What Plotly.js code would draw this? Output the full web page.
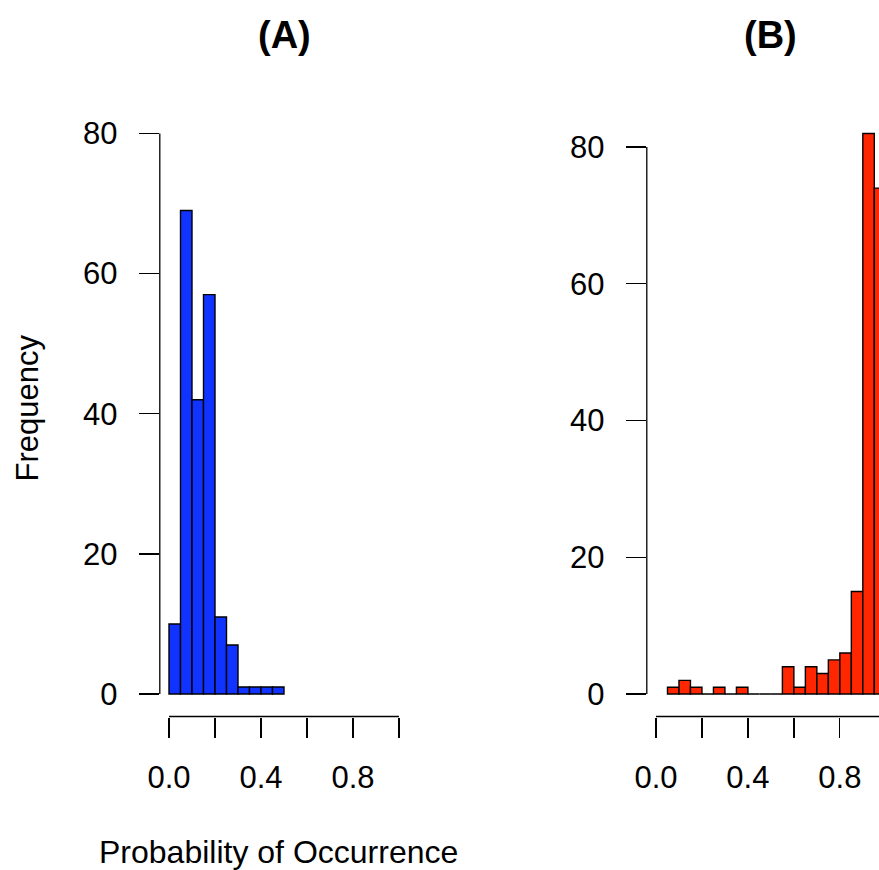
<!DOCTYPE html>
<html>
<head>
<meta charset="utf-8">
<script src="https://cdn.plot.ly/plotly-3.0.1.min.js"></script>
<style>
html, body { margin:0; padding:0; overflow:hidden; background:#fff; width:879px; height:870px; }
#chart { width:1000px; height:870px; }
</style>
</head>
<body>
<div id="chart"></div>
<script>
// Panel A: histogram bins (centres) and counts
var binsA = [0.025, 0.075, 0.125, 0.175, 0.225, 0.275, 0.325, 0.375, 0.425, 0.475];
var countsA = [10, 69, 42, 57, 11, 7, 1, 1, 1, 1];
// Panel B
var binsB = [0.075, 0.125, 0.175, 0.225, 0.275, 0.325, 0.375, 0.425, 0.475, 0.525,
             0.575, 0.625, 0.675, 0.725, 0.775, 0.825, 0.875, 0.925, 0.975];
var countsB = [1, 2, 1, 0, 1, 0, 1, 0, 0, 0, 4, 1, 4, 3, 5, 6, 15, 82, 74];
var binWidth = 0.05;
var xTickVals = [0, 0.2, 0.4, 0.6, 0.8, 1.0];
var xTickText = ['0.0', '', '0.4', '', '0.8', ''];
var yTickVals = [0, 20, 40, 60, 80];
var yTickText = ['0', '20', '40', '60', '80'];
var panelTitles = ['(A)', '(B)'];
var xLabel = 'Probability of Occurrence';
var yLabel = 'Frequency';

var W = 1000, H = 870;
function px(v){ return v / W; }
function py(v){ return 1 - v / H; }
var FONT = 'Liberation Sans, Arial, Helvetica, sans-serif';

var traces = [
  {type:'bar', x:binsA, y:countsA, width:binWidth, xaxis:'x', yaxis:'y',
   marker:{color:'#1133FF', line:{color:'#000', width:1.4}}, hoverinfo:'x+y'},
  {type:'bar', x:binsB, y:countsB, width:binWidth, xaxis:'x2', yaxis:'y2',
   marker:{color:'#FF2600', line:{color:'#000', width:1.4}}, hoverinfo:'x+y'}
];

function xax(dom){
  return {domain:dom, range:[-0.04, 1.04], showgrid:false, zeroline:false, showline:false,
    ticks:'outside', ticklen:20, tickwidth:1.3, tickcolor:'#000',
    tickmode:'array', tickvals:xTickVals, ticktext:xTickText,
    ticklabelstandoff:13, tickfont:{family:FONT, size:31, color:'#000'}, fixedrange:true};
}
function yax(dom, top, anchor){
  return {domain:dom, range:[-0.04*top, 1.04*top], showgrid:false, zeroline:false, showline:false,
    anchor:anchor,
    ticks:'outside', ticklen:20, tickwidth:1.3, tickcolor:'#000',
    tickmode:'array', tickvals:yTickVals, ticktext:yTickText,
    ticklabelstandoff:15, tickfont:{family:FONT, size:31, color:'#000'}, fixedrange:true};
}

var yDom = [py(716.5), py(111)];
var layout = {
  width:W, height:H, margin:{l:0, r:0, t:0, b:0},
  paper_bgcolor:'#fff', plot_bgcolor:'#fff', showlegend:false, bargap:0,
  xaxis: Object.assign(xax([px(159.8), px(408.2)]), {anchor:'y'}),
  yaxis: yax(yDom, 80, 'x'),
  xaxis2: Object.assign(xax([px(646.8), px(895)]), {anchor:'y2'}),
  yaxis2: yax(yDom, 82, 'x2'),
  shapes: [
    {type:'line', xref:'x', yref:'y domain', x0:0, x1:1, y0:0, y1:0, line:{color:'#000', width:1.3}},
    {type:'line', xref:'x domain', yref:'y', x0:0, x1:0, y0:0, y1:80, line:{color:'#000', width:1.3}},
    {type:'line', xref:'x2', yref:'y2 domain', x0:0, x1:1, y0:0, y1:0, line:{color:'#000', width:1.3}},
    {type:'line', xref:'x2 domain', yref:'y2', x0:0, x1:0, y0:0, y1:80, line:{color:'#000', width:1.3}}
  ],
  annotations: [
    {text:'<b>' + panelTitles[0] + '</b>', xref:'x domain', yref:'paper', x:0.5, y:py(35),
     showarrow:false, xanchor:'center', yanchor:'middle', font:{family:FONT, size:38, color:'#000'}},
    {text:'<b>' + panelTitles[1] + '</b>', xref:'x2 domain', yref:'paper', x:0.5, y:py(35),
     showarrow:false, xanchor:'center', yanchor:'middle', font:{family:FONT, size:38, color:'#000'}},
    {text:xLabel, xref:'paper', yref:'paper', x:px(278.5), y:py(852),
     showarrow:false, xanchor:'center', yanchor:'middle', font:{family:FONT, size:32, color:'#000'}},
    {text:yLabel, xref:'paper', yref:'paper', x:px(27), y:py(408.5), textangle:-90,
     showarrow:false, xanchor:'center', yanchor:'middle', font:{family:FONT, size:31, color:'#000'}}
  ]
};

Plotly.newPlot('chart', traces, layout, {displayModeBar:false, staticPlot:true});
</script>
</body>
</html>
